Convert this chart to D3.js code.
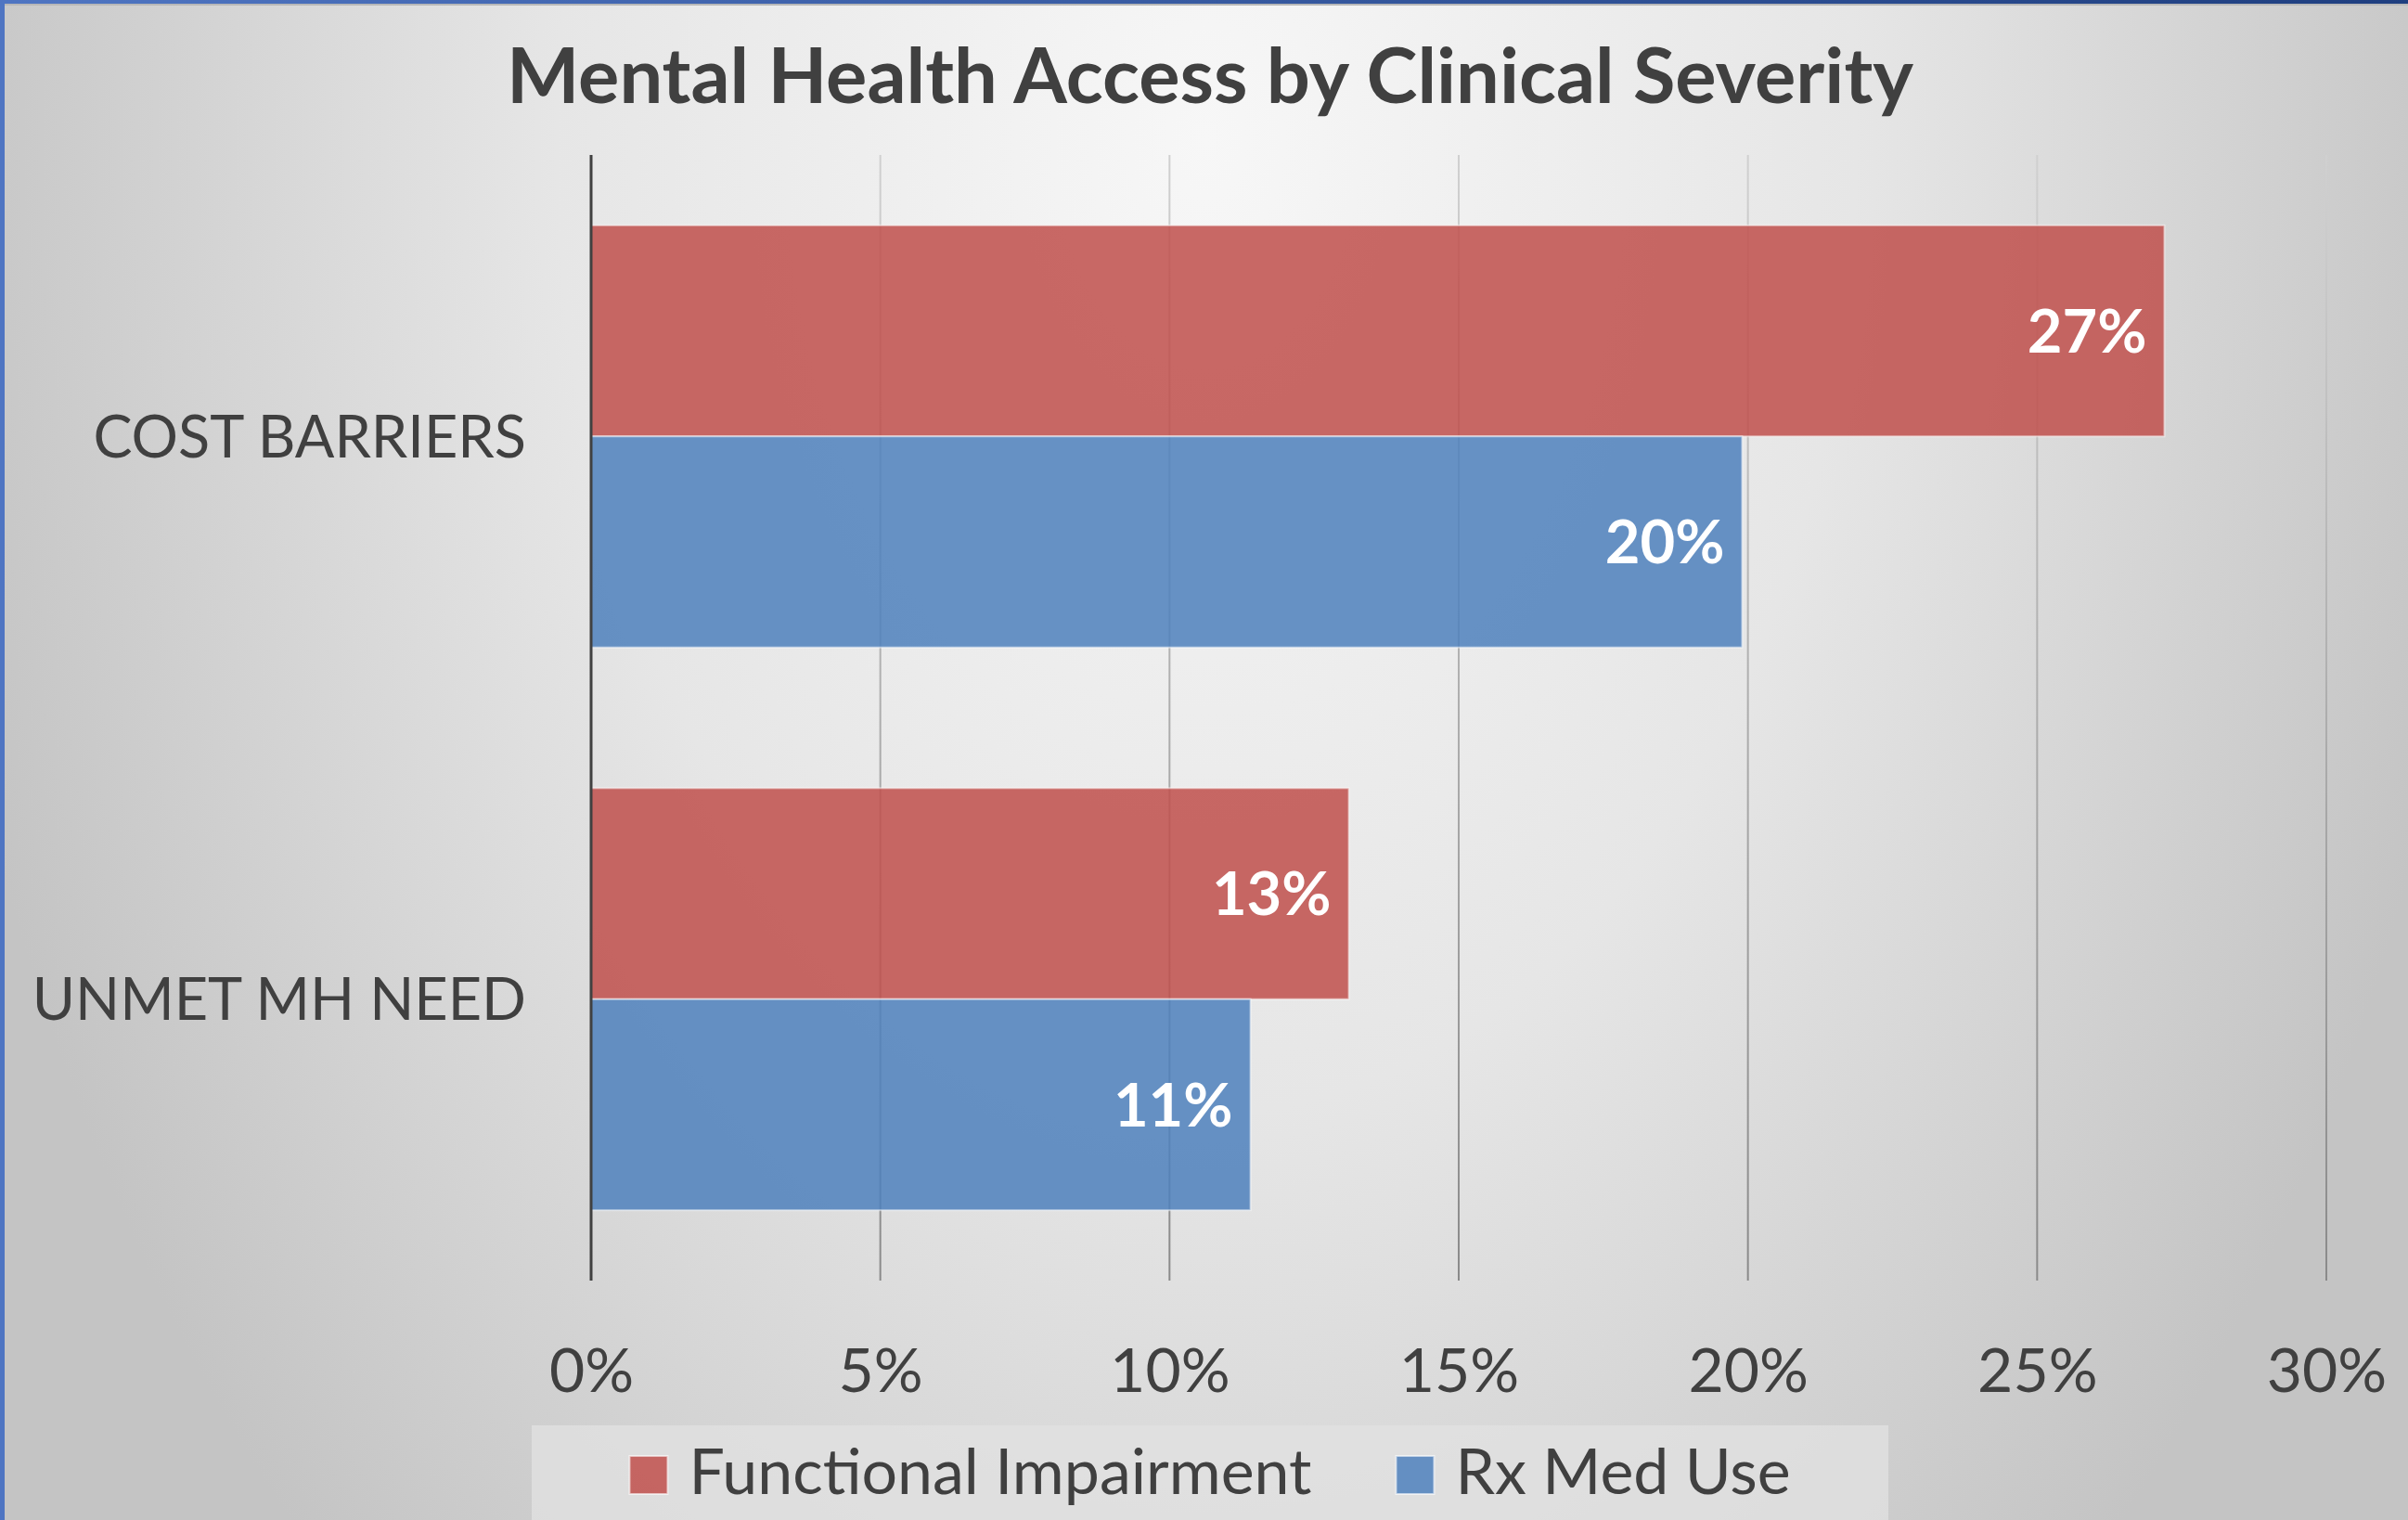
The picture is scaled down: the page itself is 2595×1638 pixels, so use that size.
<!DOCTYPE html>
<html>
<head>
<meta charset="utf-8">
<script src="https://cdn.jsdelivr.net/npm/d3@7"></script>
<style>
  body { margin: 0; padding: 0; }
  svg { display: block; font-family: Lato, "Open Sans", sans-serif; }
</style>
</head>
<body>
<div id="chart"></div>
<script>
// Dados do gráfico
var categories = ["COST BARRIERS", "UNMET MH NEED"];
var seriesNames = ["Functional Impairment", "Rx Med Use"];
var functionalImpairment = [0.272, 0.131];
var rxMedUse = [0.199, 0.114];
var tickValues = [0, 0.05, 0.10, 0.15, 0.20, 0.25, 0.30];
var titleText = "Mental Health Access by Clinical Severity";

var seriesValues = [functionalImpairment, rxMedUse];
var seriesColors = ["#c0504d", "#4f81bd"];

// Tamanho total e margens da área de plotagem
var totalWidth = 2595, totalHeight = 1638;
var margin = { top: 167, left: 637, right: 88, bottom: 258 };
var width = totalWidth - margin.left - margin.right,
    height = totalHeight - margin.top - margin.bottom;

var svg = d3.select("#chart")
  .append("svg")
  .attr("width", totalWidth)
  .attr("height", totalHeight);

var defs = svg.append("defs");

// Fundo com gradiente radial
var bgGrad = defs.append("radialGradient")
  .attr("id", "bg-grad")
  .attr("gradientUnits", "userSpaceOnUse")
  .attr("cx", 1300).attr("cy", 150).attr("r", 1400)
  .attr("gradientTransform", "translate(0,150) scale(1,1.5) translate(0,-150)");
bgGrad.append("stop").attr("offset", 0).attr("stop-color", "#f7f7f7");
bgGrad.append("stop").attr("offset", 0.5).attr("stop-color", "#e6e6e6");
bgGrad.append("stop").attr("offset", 1).attr("stop-color", "#c4c4c4");

svg.append("rect")
  .attr("width", totalWidth)
  .attr("height", totalHeight)
  .attr("fill", "url(#bg-grad)");

// Bordas azuis (esquerda e topo)
var topGrad = defs.append("linearGradient")
  .attr("id", "top-grad");
topGrad.append("stop").attr("offset", 0).attr("stop-color", "#4f75c2");
topGrad.append("stop").attr("offset", 1).attr("stop-color", "#1f3f80");

svg.append("rect")
  .attr("x", 0).attr("y", 4)
  .attr("width", totalWidth).attr("height", 2)
  .attr("fill", "#b8b8b8");
svg.append("rect")
  .attr("x", 0).attr("y", 0)
  .attr("width", totalWidth).attr("height", 4)
  .attr("fill", "url(#top-grad)");
svg.append("rect")
  .attr("x", 0).attr("y", 0)
  .attr("width", 5).attr("height", totalHeight)
  .attr("fill", "#4f75c2");

// Escalas
var xScale = d3.scaleLinear()
  .domain([0, 0.30])
  .range([margin.left, margin.left + width]);

var yScale = d3.scaleBand()
  .domain(categories)
  .range([margin.top, margin.top + height])
  .paddingInner(0.25)
  .paddingOuter(0.125);

var ySeries = d3.scaleBand()
  .domain(seriesNames)
  .range([0, yScale.bandwidth()]);

// Linhas de grade com gradiente vertical
var gridGrad = defs.append("linearGradient")
  .attr("id", "grid-grad")
  .attr("gradientUnits", "userSpaceOnUse")
  .attr("x1", 0).attr("y1", margin.top)
  .attr("x2", 0).attr("y2", margin.top + height);
gridGrad.append("stop").attr("offset", 0).attr("stop-color", "#d0d0d0");
gridGrad.append("stop").attr("offset", 1).attr("stop-color", "#8a8a8a");

svg.append("g")
  .attr("class", "grid")
  .selectAll("line")
  .data(tickValues.slice(1))
  .enter().append("line")
  .attr("x1", function(d) { return xScale(d); })
  .attr("x2", function(d) { return xScale(d); })
  .attr("y1", margin.top)
  .attr("y2", margin.top + height)
  .attr("stroke", "url(#grid-grad)")
  .attr("stroke-width", 2);

// Barras
var rows = [];
categories.forEach(function(cat, i) {
  seriesNames.forEach(function(s, j) {
    rows.push({ category: cat, series: s, value: seriesValues[j][i], color: seriesColors[j] });
  });
});

svg.append("g")
  .attr("class", "bars")
  .selectAll("rect")
  .data(rows)
  .enter().append("rect")
  .attr("x", xScale(0))
  .attr("y", function(d) { return yScale(d.category) + ySeries(d.series); })
  .attr("width", function(d) { return xScale(d.value) - xScale(0); })
  .attr("height", ySeries.bandwidth())
  .attr("fill", function(d) { return d.color; })
  .attr("fill-opacity", 0.86)
  .attr("stroke", "#ffffff")
  .attr("stroke-opacity", 0.5)
  .attr("stroke-width", 2);

// Rótulos de valor
svg.append("g")
  .attr("class", "value-labels")
  .selectAll("text")
  .data(rows)
  .enter().append("text")
  .attr("x", function(d) { return xScale(d.value) - 19; })
  .attr("y", function(d) { return yScale(d.category) + ySeries(d.series) + ySeries.bandwidth() / 2; })
  .attr("dy", "0.36em")
  .attr("text-anchor", "end")
  .attr("fill", "#ffffff")
  .attr("font-weight", "bold")
  .attr("font-size", 65)
  .text(function(d) { return d3.format(".0%")(d.value); });

// Eixo vertical (linha do zero)
svg.append("line")
  .attr("x1", xScale(0)).attr("x2", xScale(0))
  .attr("y1", margin.top).attr("y2", margin.top + height)
  .attr("stroke", "#404040")
  .attr("stroke-width", 3);

// Rótulos das categorias
svg.append("g")
  .attr("class", "cat-labels")
  .selectAll("text")
  .data(categories)
  .enter().append("text")
  .attr("x", 567)
  .attr("y", function(d) { return yScale(d) + yScale.bandwidth() / 2; })
  .attr("dy", "0.36em")
  .attr("text-anchor", "end")
  .attr("fill", "#404040")
  .attr("font-size", 63)
  .text(function(d) { return d; });

// Eixo x
var xAxis = d3.axisBottom(xScale)
  .tickValues(tickValues)
  .tickSize(0)
  .tickFormat(d3.format(".0%"));

var xAxisG = svg.append("g")
  .attr("class", "axis x-axis")
  .attr("transform", "translate(0," + (margin.top + height) + ")")
  .call(xAxis);
xAxisG.select(".domain").remove();
xAxisG.selectAll("text")
  .attr("y", 120)
  .attr("dy", 0)
  .attr("fill", "#404040")
  .attr("font-size", 66)
  .attr("font-family", "Lato, 'Open Sans', sans-serif");

// Título
svg.append("text")
  .attr("x", 1304)
  .attr("y", 111)
  .attr("text-anchor", "middle")
  .attr("fill", "#404040")
  .attr("font-weight", "bold")
  .attr("font-size", 83)
  .text(titleText);

// Legenda
var legendBox = { x: 573, y: 1536, w: 1462, h: 110 };
svg.append("rect")
  .attr("x", legendBox.x).attr("y", legendBox.y)
  .attr("width", legendBox.w).attr("height", legendBox.h)
  .attr("fill", "#e2e2e2")
  .attr("fill-opacity", 0.75);

var legend = svg.append("g").attr("class", "legend");
var items = legend.selectAll("g")
  .data(seriesNames)
  .enter().append("g");

items.append("rect")
  .attr("width", 41).attr("height", 41)
  .attr("y", 1569)
  .attr("fill", function(d, i) { return seriesColors[i]; })
  .attr("fill-opacity", 0.86)
  .attr("stroke", "#ffffff")
  .attr("stroke-opacity", 0.6)
  .attr("stroke-width", 2);

items.append("text")
  .attr("x", 64)
  .attr("y", 1610)
  .attr("fill", "#404040")
  .attr("font-size", 68)
  .text(function(d) { return d; });

// Posiciona itens da legenda centralizados
var widths = [];
items.each(function() { widths.push(this.getBBox().width); });
var gap = 91;
var total = d3.sum(widths) + gap * (widths.length - 1);
var startX = legendBox.x + legendBox.w / 2 - total / 2;
items.attr("transform", function(d, i) {
  var offset = startX + d3.sum(widths.slice(0, i)) + gap * i;
  return "translate(" + offset + ",0)";
});
</script>
</body>
</html>
